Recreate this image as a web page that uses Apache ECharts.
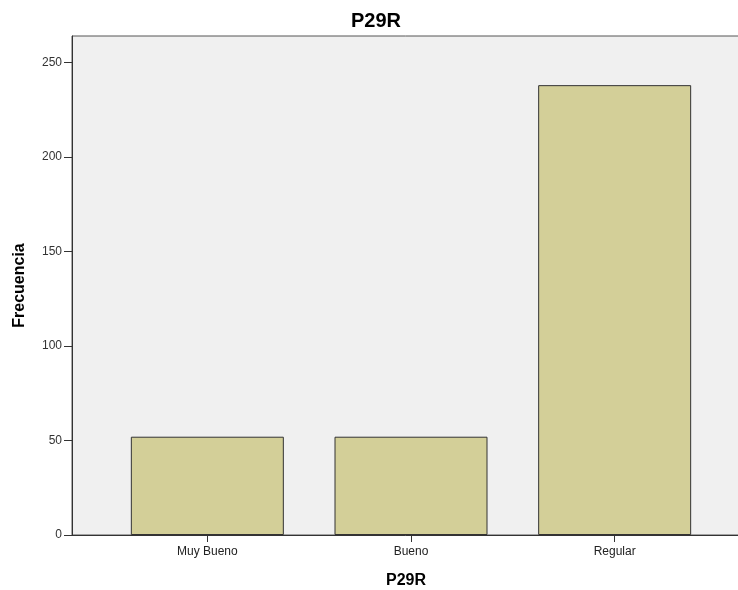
<!DOCTYPE html>
<html>
<head>
<meta charset="utf-8">
<script src="https://cdn.jsdelivr.net/npm/echarts@6/dist/echarts.min.js"></script>
<style>
html,body{margin:0;padding:0;background:#fff;}
#c{width:738px;height:590px;}
</style>
</head>
<body>
<div id="c"></div>
<script>
const titleText = 'P29R';
const xAxisName = 'P29R';
const yAxisName = 'Frecuencia';
const categories = ['Muy Bueno', 'Bueno', 'Regular'];
const frequencies = [52, 52, 238];
const yTicks = [0, 50, 100, 150, 200, 250];

const FONT = '"Liberation Sans", Arial, sans-serif';
const chart = echarts.init(document.getElementById('c'), null, {renderer: 'canvas'});
chart.setOption({
  animation: false,
  backgroundColor: '#ffffff',
  title: {
    text: titleText,
    left: 351, top: 11, padding: 0,
    textStyle: {fontFamily: FONT, fontSize: 20, fontWeight: 'bold', color: '#000'}
  },
  grid: [
    {left: 72, top: 36, right: -2, bottom: 55, show: true, backgroundColor: '#f0f0f0', borderColor: '#555', borderWidth: 1, outerBoundsMode: 'none', containLabel: false},
    {left: 105.5, top: 36, width: 611, bottom: 55, outerBoundsMode: 'none', containLabel: false}
  ],
  xAxis: [
    {
      gridIndex: 0, type: 'value', min: 0, max: 1,
      name: xAxisName, nameLocation: 'middle', nameGap: 38,
      nameTextStyle: {fontFamily: FONT, fontSize: 16, fontWeight: 'bold', color: '#000'},
      axisLine: {show: true, lineStyle: {color: '#333', width: 1}},
      axisTick: {show: false}, axisLabel: {show: false}, splitLine: {show: false}
    },
    {
      gridIndex: 1, type: 'category', data: categories,
      axisLine: {show: false},
      axisTick: {show: true, alignWithLabel: true, length: 7, lineStyle: {color: '#333'}},
      axisLabel: {fontFamily: FONT, fontSize: 12, color: '#222', margin: 11},
      splitLine: {show: false}
    }
  ],
  yAxis: [
    {
      gridIndex: 0, type: 'value', min: 0, max: 264, interval: 50,
      name: yAxisName, nameLocation: 'middle', nameGap: 44,
      nameTextStyle: {fontFamily: FONT, fontSize: 16, fontWeight: 'bold', color: '#000'},
      axisLine: {show: true, lineStyle: {color: '#333', width: 1}},
      axisTick: {show: true, length: 8, lineStyle: {color: '#333'}, customValues: yTicks},
      axisLabel: {fontFamily: FONT, fontSize: 12, color: '#333', margin: 10, customValues: yTicks},
      splitLine: {show: false}
    },
    {
      gridIndex: 1, type: 'value', min: 0, max: 264, interval: 50, show: false
    }
  ],
  series: [{
    type: 'bar', xAxisIndex: 1, yAxisIndex: 1,
    data: frequencies, barWidth: 153,
    itemStyle: {color: '#d3cf98', borderColor: '#333', borderWidth: 1}
  }]
});
</script>
</body>
</html>
